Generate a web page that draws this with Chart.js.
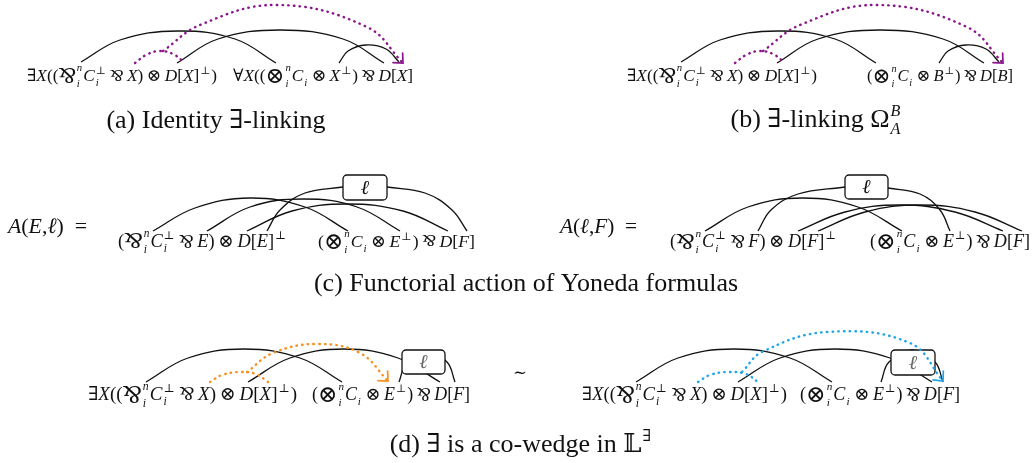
<!DOCTYPE html>
<html lang="en">
<head>
<meta charset="UTF-8">
<title>Linking diagrams</title>
<script src="https://cdn.jsdelivr.net/npm/chart.js"></script>
<style>
  html, body { margin: 0; padding: 0; background: #fff; }
  #wrap { width: 1032px; height: 463px; }
</style>
</head>
<body>
<div id="wrap"><canvas id="myChart"></canvas></div>
<script>
  // all values are in figure units (0..1032 across, 0..463 down)
  // black links
  const arcsA = [
    [[81, 62], [120, 40], [178, 31], [235, 39], [276, 63]],
    [[177, 63], [218, 39], [280, 30], [343, 39], [384, 63]],
    [[339, 63], [348, 51], [366, 45], [386, 49], [399, 62]]
  ];
  const arcsB = [
    [[681, 62], [720, 40], [778, 31], [835, 39], [876, 63]],
    [[777, 63], [818, 39], [880, 30], [943, 39], [984, 63]],
    [[939, 63], [948, 51], [966, 45], [986, 49], [999, 62]]
  ];
  const arcsC1 = [
    [[153, 231], [195, 208], [250, 198], [305, 207], [348, 231]],
    [[207, 231], [250, 207], [303, 199], [357, 207], [400, 231]],
    [[247, 231], [292, 211], [347, 204], [403, 211], [448, 231]],
    [[267, 231], [280, 210], [305, 193], [343, 187]],
    [[387, 187], [425, 193], [452, 210], [467, 231]]
  ];
  const arcsC2 = [
    [[705, 231], [748, 207], [803, 198], [858, 207], [902, 231]],
    [[758, 231], [771, 210], [798, 194], [845, 187]],
    [[888, 188], [920, 194], [940, 210], [950, 231]],
    [[798, 231], [845, 212], [900, 205], [955, 212], [1003, 231]],
    [[818, 231], [865, 212], [920, 205], [975, 212], [1022, 231]]
  ];
  const arcsD1 = [
    [[146, 382], [188, 358], [244, 349], [300, 358], [342, 382]],
    [[248, 382], [290, 358], [344, 349], [398, 358], [440, 382]],
    [[399, 382], [407, 362], [427, 352], [447, 362], [455, 382]]
  ];
  const arcsD2 = [
    [[636, 382], [678, 358], [734, 349], [790, 358], [832, 382]],
    [[738, 382], [780, 358], [835, 349], [890, 358], [932, 382]],
    [[881, 382], [889, 362], [912, 350], [935, 362], [943, 382]]
  ];

  // dotted links (the second one of each pair ends in an arrow)
  const dotsA = [
    [[135, 63], [146, 55], [159, 51], [173, 54], [185, 63]],
    [[163, 51], [200, 25], [277, 5], [367, 27], [403, 63]]
  ];
  const dotsB = [
    [[735, 63], [746, 55], [759, 51], [773, 54], [785, 63]],
    [[763, 51], [800, 25], [877, 5], [967, 27], [1003, 63]]
  ];
  const dotsD1 = [
    [[210, 382], [222, 375], [240, 372], [256, 374], [268, 382]],
    [[247, 372], [273, 353], [317, 344], [360, 353], [388, 381]]
  ];
  const dotsD2 = [
    [[698, 382], [710, 375], [728, 372], [746, 374], [758, 382]],
    [[742, 372], [762, 352], [827, 332], [910, 343], [943, 381]]
  ];

  // l boxes: left, top, right, bottom
  const boxes = [[343, 175, 387, 200], [845, 175, 888, 199], [402, 350, 445, 374], [891, 350, 935, 375]];
  const boxInk = ['#111', '#111', '#666', '#666'];

  const purple = '#8b168b';
  const orange = '#f7901e';
  const blue = '#1ea5e6';

  // formula pieces
  const I = s => ({ s: s, it: 1 });
  const R = s => ({ s: s });
  const SP = w => ({ sp: w });
  const bigPar = { par: 1, big: 1, sup: 'n', sub: 'i' };
  const bigOt = { s: '⊗', big: 1, sup: 'n', sub: 'i' };
  const cPerp = { s: 'C', it: 1, sup: '⊥', sub: 'i' };
  const cI = { s: 'C', it: 1, sub: 'i' };
  const par = [SP(0.2), { par: 1 }, SP(0.2)];
  const ot = [SP(0.2), R('⊗'), SP(0.2)];

  const existsX = [R('∃'), I('X'), R('(('), bigPar, cPerp, ...par, I('X'), R(')'), ...ot, I('D'), R('['), I('X'), { s: ']', sup: '⊥' }, R(')')];
  const forallX = [R('∀'), I('X'), R('(('), bigOt, cI, ...ot, { s: 'X', it: 1, sup: '⊥' }, R(')'), ...par, I('D'), R('['), I('X'), R(']')];
  const tensB = [R('('), bigOt, cI, ...ot, { s: 'B', it: 1, sup: '⊥' }, R(')'), ...par, I('D'), R('['), I('B'), R(']')];
  const tensE = [R('('), bigOt, cI, ...ot, { s: 'E', it: 1, sup: '⊥' }, R(')'), ...par, I('D'), R('['), I('F'), R(']')];
  const parE = [R('('), bigPar, cPerp, ...par, I('E'), R(')'), ...ot, I('D'), R('['), I('E'), { s: ']', sup: '⊥' }];
  const parF = [R('('), bigPar, cPerp, ...par, I('F'), R(')'), ...ot, I('D'), R('['), I('F'), { s: ']', sup: '⊥' }];
  const lhsE = [I('A'), R('('), I('E'), R(','), I('ℓ'), R(')'), SP(0.5), R('=')];
  const lhsF = [I('A'), R('('), I('ℓ'), R(','), I('F'), R(')'), SP(0.5), R('=')];

  // tokens, left, right, baseline, size
  const formulas = [
    [existsX, 27, 217, 81, 18], [forallX, 233, 413, 81, 18],
    [existsX, 627, 817, 81, 18], [tensB, 867, 1013, 81, 18],
    [lhsE, 8, 87, 233, 18], [parE, 118, 287, 247, 18], [tensE, 318, 475, 247, 18],
    [lhsF, 560, 637, 233, 18], [parF, 670, 837, 247, 18], [tensE, 870, 1030, 247, 18],
    [existsX, 88, 297, 400, 18], [tensE, 312, 470, 400, 18],
    [[R('∼')], 513, 527, 378, 18],
    [existsX, 582, 787, 400, 18], [tensE, 800, 960, 400, 18]
  ];
  // tokens, centre, baseline
  const captions = [
    [[R('(a) Identity ∃-linking')], 216, 128],
    [[R('(b) ∃-linking '), { s: 'Ω', sup: 'B', sub: 'A' }], 816, 127],
    [[R('(c) Functorial action of Yoneda formulas')], 526, 291],
    [[R('(d) ∃ is a co-wedge in '), { s: '𝕃', sup: '∃' }], 521, 452]
  ];
  const captionSize = 26;

  function font(size, it) {
    return (it ? 'italic ' : '') + size + 'px "Liberation Serif", "Times New Roman", "DejaVu Serif", serif';
  }

  function drawPar(ctx, x, y, s, w) {
    ctx.save();
    ctx.translate(x + w / 2, y - s * 0.33);
    ctx.rotate(Math.PI);
    ctx.fillText('&', -w / 2, s * 0.33);
    ctx.restore();
  }

  function layout(ctx, toks, size, draw) {
    let x = 0;
    for (const t of toks) {
      if (t.sp) { x += t.sp * size; continue; }
      const s = t.big ? size * 1.3 : size;
      const dy = t.big ? size * 0.12 : 0;
      ctx.font = font(s, t.it);
      let w;
      if (t.par) {
        w = ctx.measureText('&').width;
        if (draw) drawPar(ctx, x, dy, s, w);
      } else {
        w = ctx.measureText(t.s).width;
        if (draw) ctx.fillText(t.s, x, dy);
      }
      x += w;
      if (t.sup || t.sub) {
        const ss = size * 0.62;
        let w2 = 0;
        if (t.sup) {
          ctx.font = font(ss, /[A-Za-z]/.test(t.sup));
          w2 = Math.max(w2, ctx.measureText(t.sup).width);
          if (draw) ctx.fillText(t.sup, x + 1, -size * (t.big ? 0.55 : 0.42));
        }
        if (t.sub) {
          ctx.font = font(ss, true);
          w2 = Math.max(w2, ctx.measureText(t.sub).width);
          if (draw) ctx.fillText(t.sub, x + 1, size * (t.big ? 0.35 : 0.28));
        }
        x += w2 + 2;
      }
    }
    return x;
  }

  // fit a formula between its left and right ends, keeping glyph proportions
  function drawFormula(chart, f) {
    const ctx = chart.ctx;
    const xs = chart.scales.x, ys = chart.scales.y;
    const x0 = xs.getPixelForValue(f[1]), x1 = xs.getPixelForValue(f[2]);
    const y = ys.getPixelForValue(f[3]);
    const w = layout(ctx, f[0], f[4], false);
    const k = (x1 - x0) / w;
    ctx.save();
    ctx.fillStyle = '#111';
    ctx.textBaseline = 'alphabetic';
    ctx.translate(x0, y);
    ctx.scale(k, k);
    layout(ctx, f[0], f[4], true);
    ctx.restore();
  }

  function drawCaption(chart, c) {
    const ctx = chart.ctx;
    const w = layout(ctx, c[0], captionSize, false);
    ctx.save();
    ctx.fillStyle = '#111';
    ctx.textBaseline = 'alphabetic';
    ctx.translate(chart.scales.x.getPixelForValue(c[1]) - w / 2, chart.scales.y.getPixelForValue(c[2]));
    layout(ctx, c[0], captionSize, true);
    ctx.restore();
  }

  function drawBoxes(chart) {
    const ctx = chart.ctx;
    const xs = chart.scales.x, ys = chart.scales.y;
    boxes.forEach((b, i) => {
      const l = xs.getPixelForValue(b[0]), t = ys.getPixelForValue(b[1]);
      const r = xs.getPixelForValue(b[2]), btm = ys.getPixelForValue(b[3]);
      ctx.save();
      ctx.beginPath();
      ctx.roundRect(l, t, r - l, btm - t, 4);
      ctx.fillStyle = '#fff';
      ctx.fill();
      ctx.lineWidth = 1.3;
      ctx.strokeStyle = '#111';
      ctx.stroke();
      ctx.fillStyle = boxInk[i];
      ctx.font = font(20, true);
      ctx.textAlign = 'center';
      ctx.textBaseline = 'middle';
      ctx.fillText('ℓ', (l + r) / 2, (t + btm) / 2 + 1);
      ctx.restore();
    });
  }

  function drawArrow(chart, i) {
    const ctx = chart.ctx;
    const pts = chart.getDatasetMeta(i).data;
    const p = pts[pts.length - 1];
    const q = pts[pts.length - 2];
    const dx = p.x - (p.cp1x !== undefined ? p.cp1x : q.x);
    const dy = p.y - (p.cp1y !== undefined ? p.cp1y : q.y);
    const a = Math.atan2(dy, dx);
    const len = 10;
    ctx.save();
    ctx.strokeStyle = chart.data.datasets[i].borderColor;
    ctx.lineWidth = 1.7;
    ctx.lineCap = 'round';
    ctx.beginPath();
    ctx.moveTo(p.x + len * Math.cos(a + Math.PI - 0.75), p.y + len * Math.sin(a + Math.PI - 0.75));
    ctx.lineTo(p.x, p.y);
    ctx.lineTo(p.x + len * Math.cos(a + Math.PI + 0.75), p.y + len * Math.sin(a + Math.PI + 0.75));
    ctx.stroke();
    ctx.restore();
  }

  function link(pts, color, dotted, arrow) {
    return {
      data: pts.map(p => ({ x: p[0], y: p[1] })),
      showLine: true,
      borderColor: color,
      borderWidth: dotted ? 2.4 : 1.3,
      borderDash: dotted ? [0.5, 5.2] : [],
      borderCapStyle: dotted ? 'round' : 'butt',
      pointRadius: 0,
      tension: 0.4,
      order: dotted ? 0 : 1,
      dotted: dotted,
      arrow: arrow
    };
  }

  const datasets = [];
  [arcsA, arcsB, arcsC1, arcsC2, arcsD1, arcsD2].forEach(g => g.forEach(a => datasets.push(link(a, '#111', false, false))));
  [[dotsA, purple], [dotsB, purple], [dotsD1, orange], [dotsD2, blue]].forEach(([g, c]) => {
    datasets.push(link(g[0], c, true, false));
    datasets.push(link(g[1], c, true, true));
  });

  let boxesDone = false;
  const diagram = {
    id: 'diagram',
    beforeDraw() { boxesDone = false; },
    beforeDatasetDraw(chart, args) {
      if (chart.data.datasets[args.index].dotted && !boxesDone) {
        drawBoxes(chart);
        boxesDone = true;
      }
    },
    afterDatasetsDraw(chart) {
      chart.data.datasets.forEach((ds, i) => { if (ds.arrow) drawArrow(chart, i); });
    },
    afterDraw(chart) {
      formulas.forEach(f => drawFormula(chart, f));
      captions.forEach(c => drawCaption(chart, c));
    }
  };

  const ctx = document.getElementById('myChart');
  const myChart = new Chart(ctx, {
    type: 'scatter',
    data: { datasets: datasets },
    options: {
      responsive: true,
      maintainAspectRatio: false,
      animation: false,
      layout: { padding: 0 },
      plugins: { legend: { display: false }, tooltip: { enabled: false } },
      scales: {
        x: { type: 'linear', min: 0, max: 1032, display: false },
        y: { type: 'linear', min: 0, max: 463, reverse: true, display: false }
      }
    },
    plugins: [diagram]
  });
</script>
</body>
</html>
